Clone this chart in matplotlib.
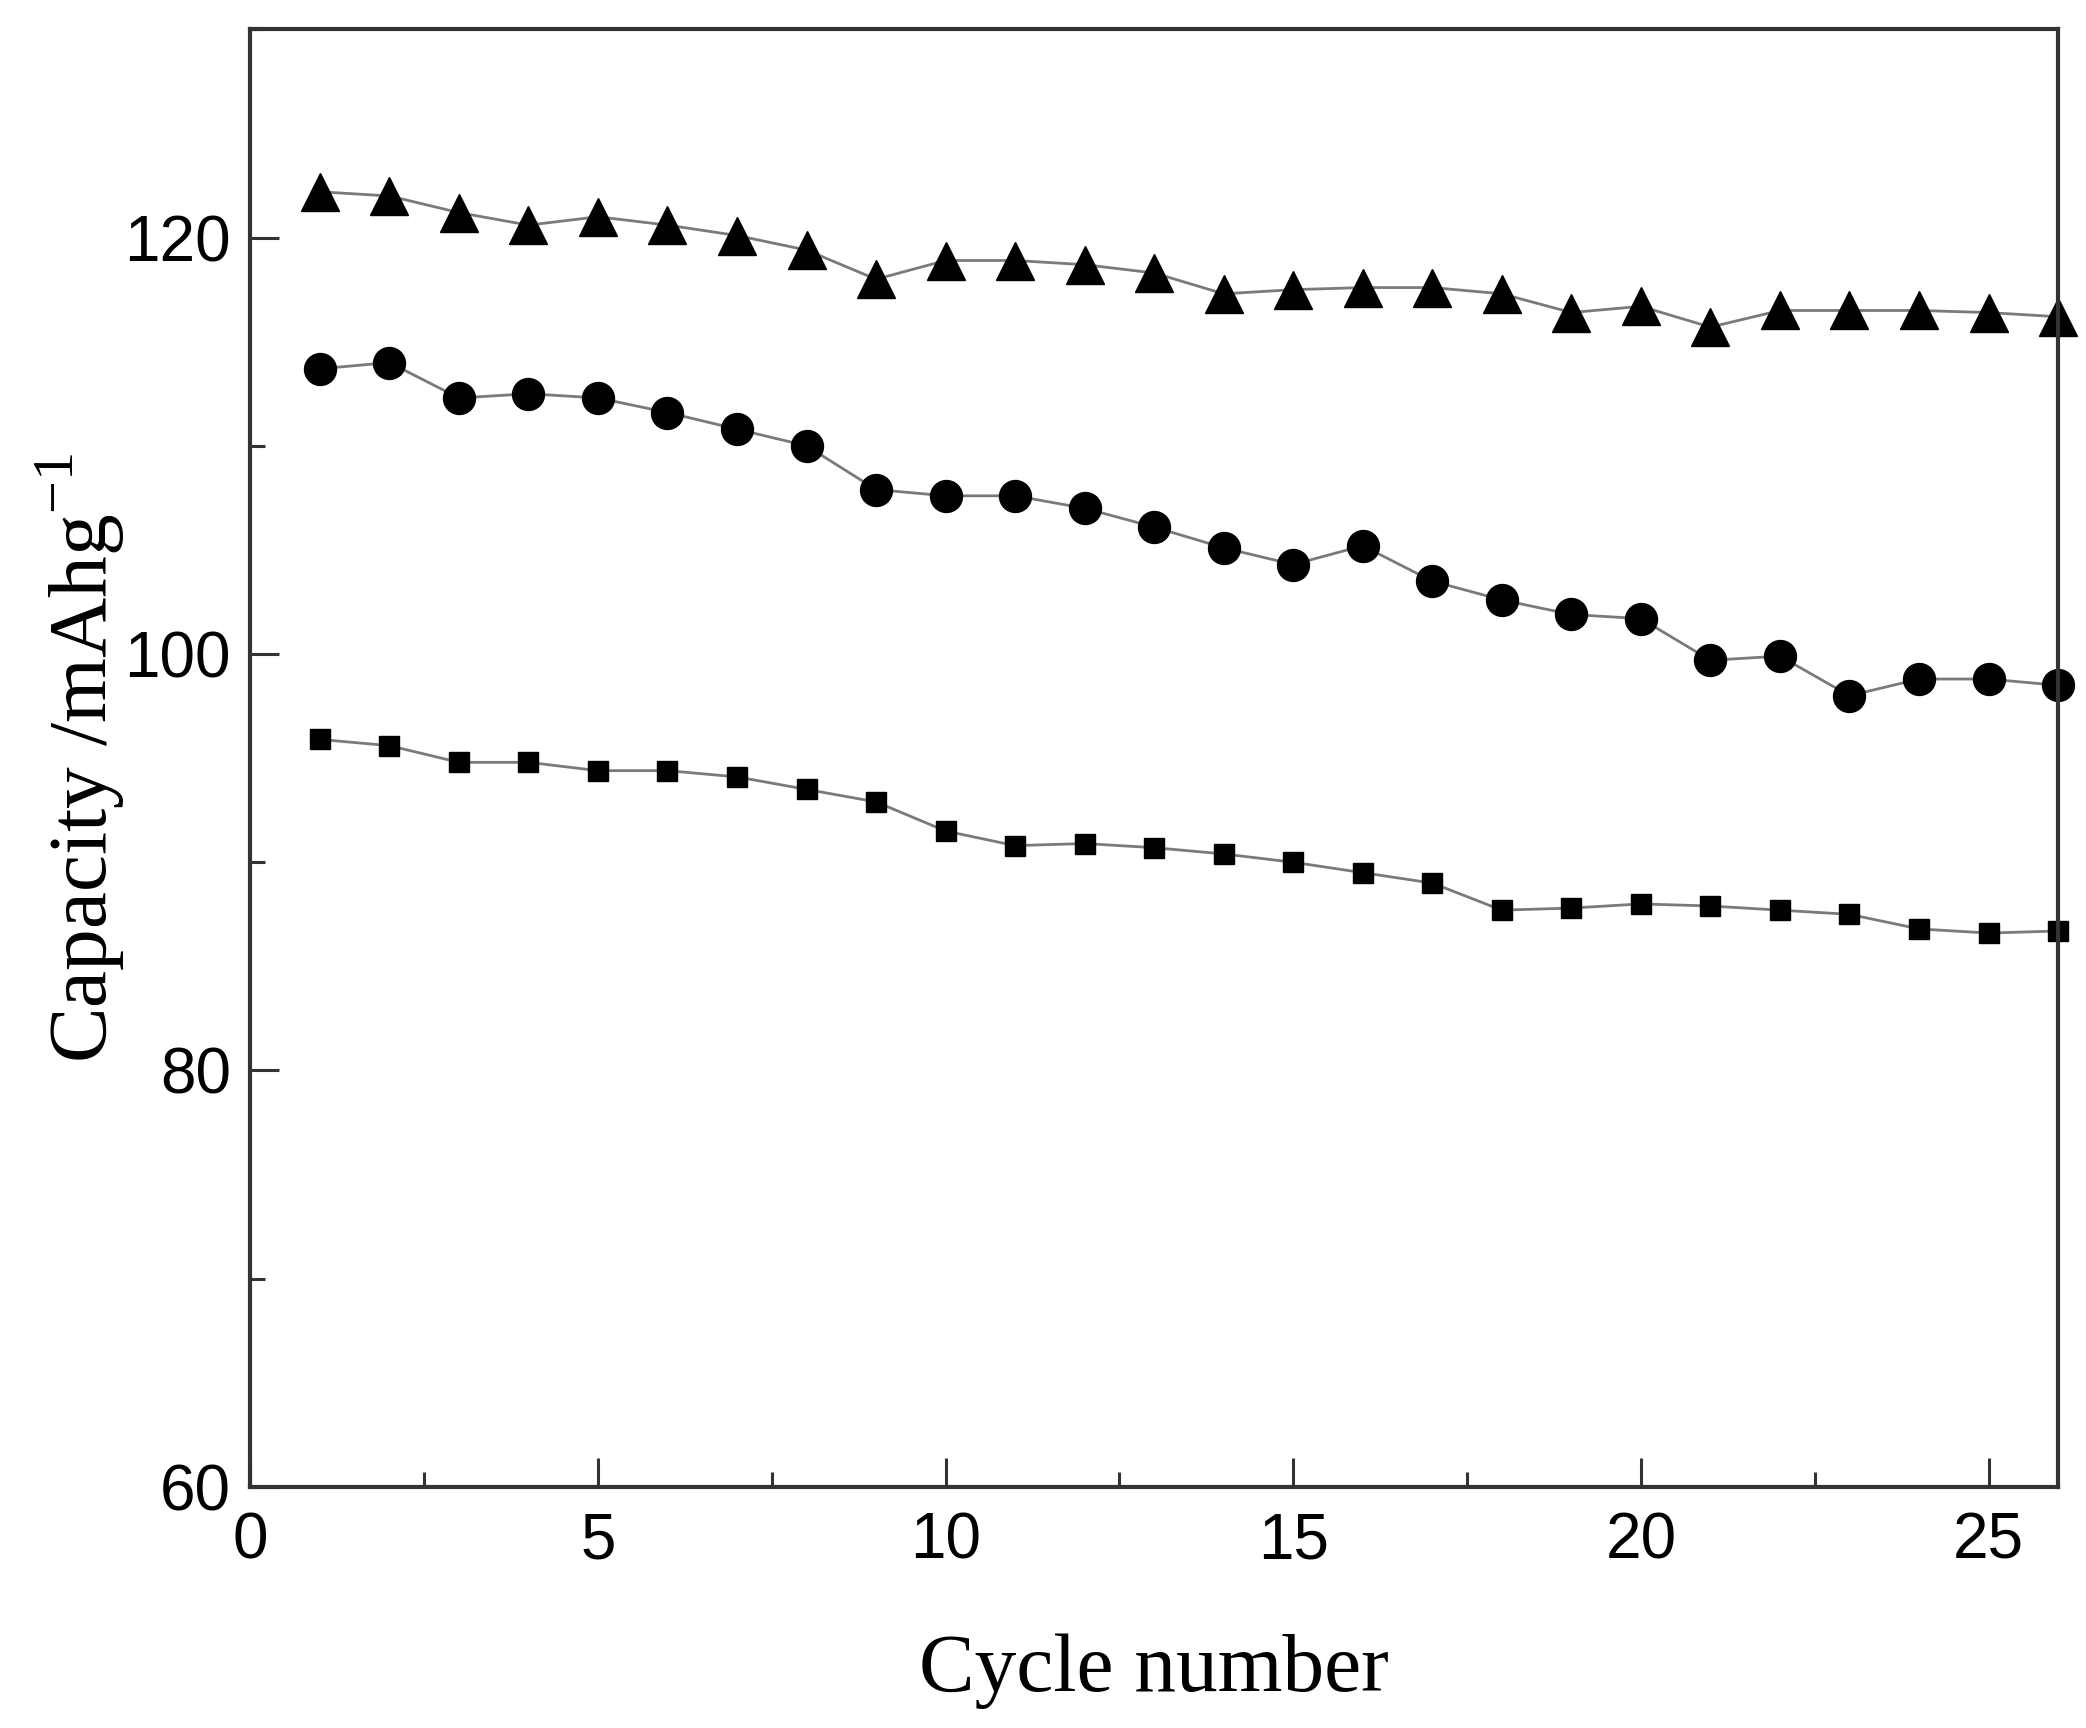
import matplotlib
matplotlib.use("Agg")
import matplotlib.pyplot as plt
from matplotlib.ticker import MultipleLocator

cycles = list(range(1, 27))
triangle_vals = [122.2, 122.0, 121.2, 120.6, 121.0, 120.6, 120.1, 119.4, 118.0, 118.9,
                 118.9, 118.7, 118.3, 117.3, 117.5, 117.6, 117.6, 117.3, 116.4, 116.7,
                 115.7, 116.5, 116.5, 116.5, 116.4, 116.2]
circle_vals = [113.7, 114.0, 112.3, 112.5, 112.3, 111.6, 110.8, 110.0, 107.9, 107.6,
               107.6, 107.0, 106.1, 105.1, 104.3, 105.2, 103.5, 102.6, 101.9, 101.7,
               99.7, 99.9, 98.0, 98.8, 98.8, 98.5]
square_vals = [95.9, 95.6, 94.8, 94.8, 94.4, 94.4, 94.1, 93.5, 92.9, 91.5,
               90.8, 90.9, 90.7, 90.4, 90.0, 89.5, 89.0, 87.7, 87.8, 88.0,
               87.9, 87.7, 87.5, 86.8, 86.6, 86.7]
xticks = [0, 5, 10, 15, 20, 25]
yticks = [60, 80, 100, 120]

fig = plt.figure(figsize=(20.86, 17.28), dpi=100)
ax = fig.add_axes([0.120, 0.1395, 0.8666, 0.8435])

line_kw = dict(color="#7a7a7a", linewidth=2.0, markerfacecolor="black",
               markeredgecolor="black", clip_on=False)
ax.plot(cycles, triangle_vals, marker="^", markersize=28, **line_kw)
ax.plot(cycles, circle_vals, marker="o", markersize=23, **line_kw)
ax.plot(cycles, square_vals, marker="s", markersize=15, **line_kw)

ax.set_xlim(0, 26)
ax.set_ylim(60, 130)
ax.set_xticks(xticks)
ax.set_yticks(yticks)
ax.xaxis.set_minor_locator(MultipleLocator(2.5))
ax.yaxis.set_minor_locator(MultipleLocator(10))

for s in ax.spines.values():
    s.set_linewidth(3)
    s.set_color("#333333")

ax.tick_params(which="both", direction="in", width=2.2, color="#333333")
ax.tick_params(which="major", length=21, labelsize=46)
ax.tick_params(axis="x", which="major", pad=18)
ax.tick_params(axis="y", which="major", pad=14)
ax.tick_params(which="minor", length=11)
for lab in ax.get_xticklabels() + ax.get_yticklabels():
    lab.set_fontfamily("Liberation Sans")

ax.set_xlabel("Cycle number", fontsize=60, family="Liberation Serif", labelpad=44)
ax.set_ylabel("Capacity /mAhg$^{\\mathregular{-1}}$", fontsize=60,
              family="Liberation Serif", labelpad=-2)

fig.savefig("out.png", dpi=100)
